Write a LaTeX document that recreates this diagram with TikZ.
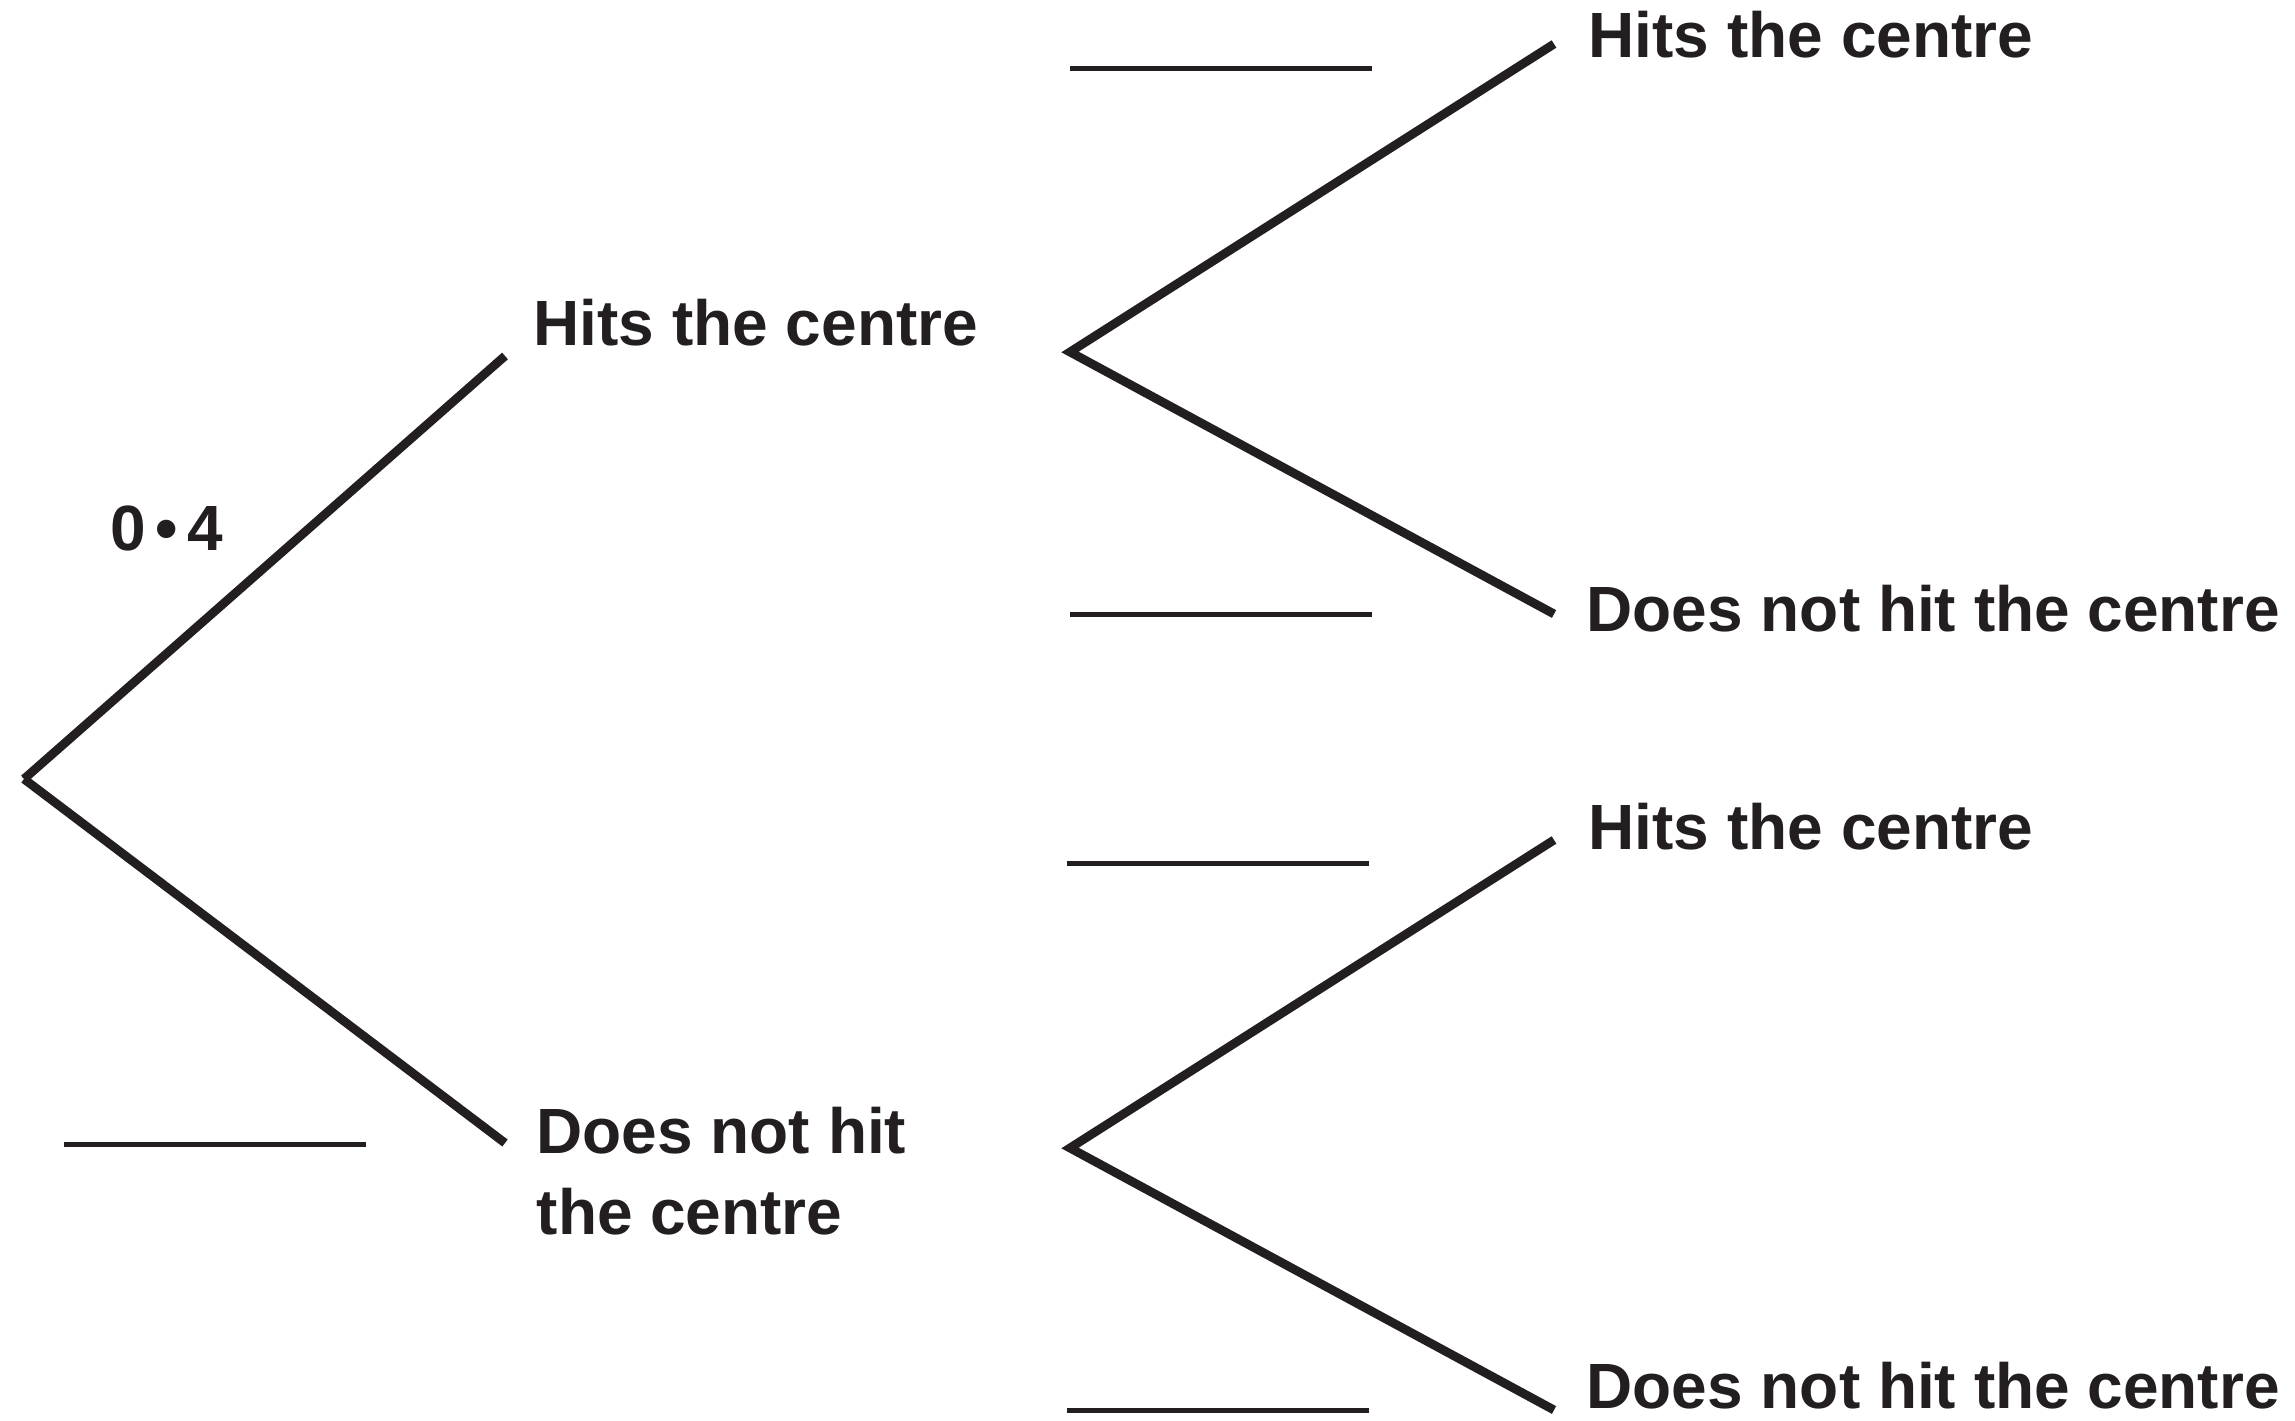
\documentclass[tikz,border=0pt]{standalone}
\usepackage{fontspec}
\setmainfont{Liberation Sans}
\usepackage{tikz}
\usetikzlibrary{positioning}
\definecolor{ink}{HTML}{231F20}

\begin{document}
\begin{tikzpicture}[
  branch/.style={ink,line width=0.088cm},
  blank/.style={ink,line width=0.05cm},
  lbl/.style={ink,font=\fontsize{18.2}{22.8}\selectfont\bfseries,inner sep=0pt,anchor=base west,align=left}]
\useasboundingbox (0,0) rectangle (22.95,14.2);
% Branch points
\coordinate (root) at (0.24,6.41);
\coordinate (up) at (10.70,10.68);
\coordinate (down) at (10.70,2.72);
% First throw
\node[lbl] (hit) at (5.33,10.74) {Hits the centre};
\node[lbl] (miss) at (5.36,1.86) {Does not hit\\the centre};
\draw[branch] (root) -- (5.05,10.64) coordinate (hitend);
\draw[branch] (root) -- (5.05,2.77) coordinate (missend);
\node[lbl] (p) at (1.10,8.69) {0\hspace{0.15em}•\hspace{0.15em}4};
% Second throw
\node[lbl] (hithit) at (15.88,13.62) {Hits the centre};
\node[lbl] (hitmiss) at (15.86,7.88) {Does not hit the centre};
\node[lbl] (misshit) at (15.88,5.70) {Hits the centre};
\node[lbl] (missmiss) at (15.86,0.12) {Does not hit the centre};
\draw[branch] (15.54,13.76) coordinate (a) -- (up) -- (15.54,8.06) coordinate (b);
\draw[branch] (15.54,5.80) coordinate (c) -- (down) -- (15.54,0.10) coordinate (d);
% Answer lines
\draw[blank] (0.64,2.75) -- ++(3.02,0);
\draw[blank] (10.70,13.51) -- ++(3.02,0);
\draw[blank] (10.70,8.05) -- ++(3.02,0);
\draw[blank] (10.67,5.56) -- ++(3.02,0);
\draw[blank] (10.67,0.10) -- ++(3.02,0);
\end{tikzpicture}
\end{document}
